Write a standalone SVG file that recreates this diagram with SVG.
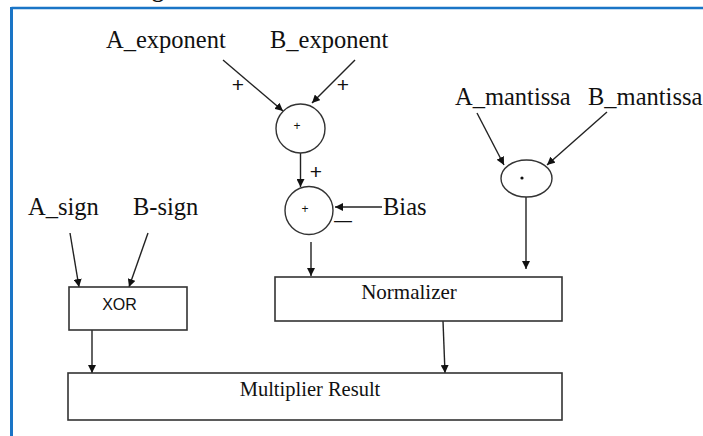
<svg xmlns="http://www.w3.org/2000/svg" width="703" height="436" viewBox="0 0 703 436">
<defs>
<style>
.lbl{font-family:"Liberation Serif","Times New Roman",serif;font-size:24.5px;fill:#111}
.box{fill:#fff;stroke:#333;stroke-width:1.6}
.op{fill:#fff;stroke:#333;stroke-width:1.4}
.sym{font-family:"Liberation Sans",Arial,sans-serif;fill:#111}
.c{stroke:#222;stroke-width:1.4;fill:none;marker-end:url(#ah)}
</style>
<marker id="ah" viewBox="0 0 10 10" refX="10" refY="5" markerWidth="8" markerHeight="8" markerUnits="userSpaceOnUse" orient="auto">
<path d="M0,0 L10,5 L0,10 z" fill="#111"/>
</marker>
</defs>
<rect width="703" height="436" fill="#fff"/>
<g id="frame">
<line x1="11.5" y1="8" x2="703" y2="8" stroke="#1a75c6" stroke-width="2.5"/>
<line x1="11.5" y1="7" x2="11.5" y2="436" stroke="#1a75c6" stroke-width="3"/>
<text x="152" y="-3" font-family="Liberation Serif,serif" font-weight="bold" font-size="24" fill="#111">g</text>
</g>
<g id="connectors">
<line class="c" x1="223" y1="60" x2="283" y2="111"/>
<line class="c" x1="355" y1="60" x2="312" y2="103"/>
<line class="c" x1="300.5" y1="153" x2="300.5" y2="187"/>
<line class="c" x1="382" y1="207" x2="335" y2="207"/>
<line class="c" x1="311" y1="242" x2="311" y2="276"/>
<line class="c" x1="477" y1="113" x2="504" y2="165"/>
<line class="c" x1="607" y1="112" x2="547" y2="165"/>
<line class="c" x1="526" y1="197" x2="526" y2="269"/>
<line class="c" x1="70" y1="233" x2="79" y2="287"/>
<line class="c" x1="148" y1="233" x2="129" y2="287"/>
<line class="c" x1="92" y1="330" x2="92" y2="373"/>
<line class="c" x1="443" y1="321" x2="445" y2="373"/>
</g>
<g id="A_exponent"><text class="lbl" x="106" y="48">A_exponent</text></g>
<g id="B_exponent"><text class="lbl" x="270" y="48">B_exponent</text></g>
<g id="plus_labels">
<text class="sym" x="238" y="92" font-size="21" text-anchor="middle">+</text>
<text class="sym" x="343" y="92" font-size="21" text-anchor="middle">+</text>
<text class="sym" x="316" y="179" font-size="21" text-anchor="middle">+</text>
<text class="sym" x="343" y="226" font-size="18" text-anchor="middle">—</text>
</g>
<g id="adder1">
<circle class="op" cx="300.5" cy="128.5" r="24.5"/>
<text class="sym" x="297" y="130" font-size="12" text-anchor="middle">+</text>
</g>
<g id="adder2">
<circle class="op" cx="309" cy="210.5" r="24"/>
<text class="sym" x="305" y="213" font-size="12" text-anchor="middle">+</text>
</g>
<g id="Bias"><text class="lbl" x="383" y="215">Bias</text></g>
<g id="A_mantissa"><text class="lbl" x="455" y="105">A_mantissa</text></g>
<g id="B_mantissa"><text class="lbl" x="588" y="105">B_mantissa</text></g>
<g id="mult">
<ellipse class="op" cx="526.5" cy="178.5" rx="25.5" ry="18.5"/>
<circle cx="522" cy="178" r="1.6" fill="#111"/>
</g>
<g id="A_sign"><text class="lbl" x="28" y="215">A_sign</text></g>
<g id="B_sign"><text class="lbl" x="133" y="215">B-sign</text></g>
<g id="XOR">
<rect class="box" x="69" y="287" width="118" height="43"/>
<text class="sym" x="119.5" y="309.5" font-size="16" text-anchor="middle">XOR</text>
</g>
<g id="Normalizer">
<rect class="box" x="275" y="277" width="287" height="44"/>
<text class="lbl" x="409" y="299" style="font-size:21px" text-anchor="middle">Normalizer</text>
</g>
<g id="Multiplier_Result">
<rect class="box" x="68" y="373" width="494" height="47"/>
<text class="lbl" x="310" y="396" style="font-size:20.5px" text-anchor="middle">Multiplier Result</text>
</g>
</svg>
